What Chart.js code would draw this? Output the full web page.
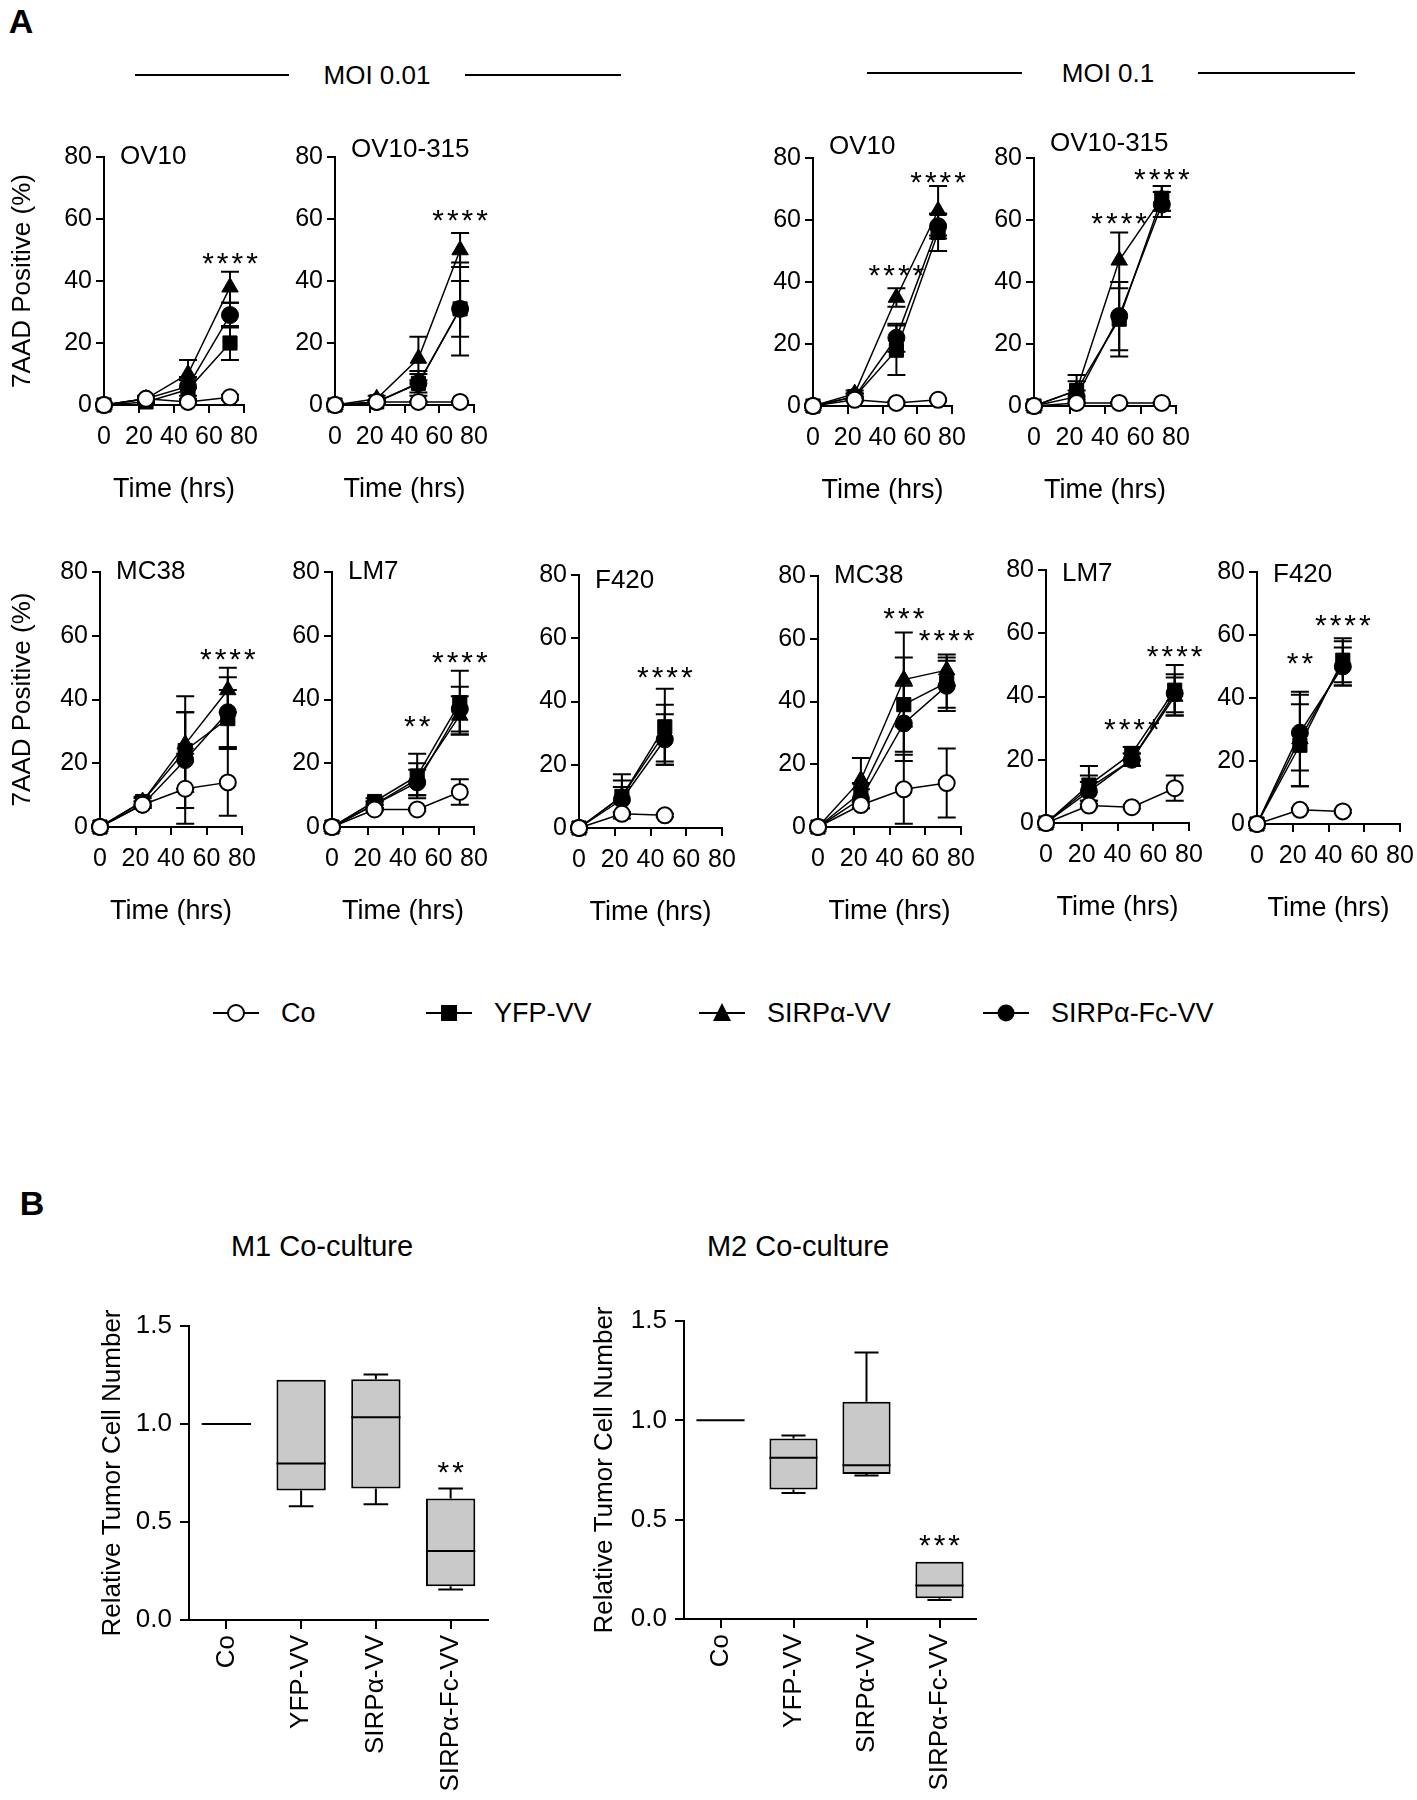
<!DOCTYPE html>
<html>
<head>
<meta charset="utf-8">
<script src="https://cdn.jsdelivr.net/npm/chart.js@4.4.1/dist/chart.umd.min.js"></script>
<style>
  body { margin:0; width:1417px; height:1800px; background:#fff; overflow:hidden; position:relative;
         font-family:"Liberation Sans", Arial, sans-serif; color:#000; }
  .box { position:absolute; }
  .lbl { position:absolute; white-space:nowrap; line-height:1; }
  .rule { position:absolute; height:2px; background:#000; }
</style>
</head>
<body>
<script>
const F = '"Liberation Sans", Arial, sans-serif';

// series order everywhere: Co, YFP-VV, SIRPa-VV, SIRPa-Fc-VV
const seriesNames = ['Co', 'YFP-VV', 'SIRPα-VV', 'SIRPα-Fc-VV'];
const hours4 = [0, 24, 48, 72];
const hours3 = [0, 24, 48];

// ---- MOI 0.01 (mean and SD of 7AAD positive %)
const ov10Low = [[0, 2, 1, 2.5], [0, 1, 5, 20], [0, 2, 10, 38], [0, 2, 6, 29]];
const ov10LowSd = [[0, 0.5, 0.5, 0.8], [0, 0.5, 3, 5.5], [0, 1, 4.5, 5], [0, 0.8, 3, 4]];
const ov10LowStars = [[72, 48, '****']];

const ov315Low = [[0, 1, 1, 1], [0, 1, 7, 31], [0, 2, 15, 50], [0, 1, 7, 31]];
const ov315LowSd = [[0, 0.3, 0.3, 0.3], [0, 0.5, 3, 15], [0, 1, 7, 5.5], [0, 0.5, 4, 9]];
const ov315LowStars = [[72, 62, '****']];

const mc38Low = [[0, 7, 12, 14], [0, 8, 24, 34], [0, 8, 26, 43], [0, 7, 21, 36]];
const mc38LowSd = [[0, 1, 11, 10.5], [0, 1, 12, 9], [0, 1.5, 15, 7], [0, 1, 15, 11]];
const mc38LowStars = [[72, 55, '****']];

const lm7Low = [[0, 5.5, 5.5, 11], [0, 8, 16, 39], [0, 7, 15, 35], [0, 7, 14, 37]];
const lm7LowSd = [[0, 0.5, 0.5, 4], [0, 1, 7, 10], [0, 1, 5, 6], [0, 1, 4, 7]];
const lm7LowStars = [[48, 34, '**'], [72, 54, '****']];

const f420Low = [[0, 4.5, 4], [0, 10, 32], [0, 10, 30], [0, 9, 28]];
const f420LowSd = [[0, 0.5, 0.5], [0, 7, 12], [0, 5, 9], [0, 4, 8]];
const f420LowStars = [[48, 50, '****']];

// ---- MOI 0.1
const ov10High = [[0, 2, 1, 2], [0, 3, 18, 56], [0, 4, 35, 63], [0, 3, 22, 58]];
const ov10HighSd = [[0, 0.5, 0.5, 0.5], [0, 1, 8, 6], [0, 1, 3, 8], [0, 1, 4.5, 4]];
const ov10HighStars = [[48, 44.5, '****'], [72, 74.5, '****']];

const ov315High = [[0, 1, 1, 1], [0, 5, 28, 67], [0, 5, 47, 67], [0, 3, 29, 65]];
const ov315HighSd = [[0, 0.3, 0.3, 0.3], [0, 3, 12, 4], [0, 5, 9, 4], [0, 2, 11, 4]];
const ov315HighStars = [[48, 61.5, '****'], [72, 75.5, '****']];

const mc38High = [[0, 7, 12, 14], [0, 11, 39, 46], [0, 15, 47, 50], [0, 9, 33, 45]];
const mc38HighSd = [[0, 1, 11, 11], [0, 3, 15, 8], [0, 7, 15, 5], [0, 3, 12, 8]];
const mc38HighStars = [[48, 69, '***'], [72, 62, '****']];

const lm7High = [[0, 5.5, 5, 11], [0, 12, 22, 42], [0, 11, 20, 40], [0, 10, 20, 41]];
const lm7HighSd = [[0, 0.5, 0.5, 4], [0, 6, 2, 8], [0, 4, 2, 6], [0, 3, 2, 6]];
const lm7HighStars = [[48, 32, '****'], [72, 55, '****']];

const f420High = [[0, 4.5, 4], [0, 25, 52], [0, 27, 51], [0, 29, 50]];
const f420HighSd = [[0, 0.5, 0.5], [0, 13, 7], [0, 15, 7], [0, 12, 6]];
const f420HighStars = [[24, 53.5, '**'], [48, 65.5, '****']];

// ---- panel B box plots (relative tumor cell number)
const boxCats = ['Co', 'YFP-VV', 'SIRPα-VV', 'SIRPα-Fc-VV'];
const m1Min = [1.0, 0.58, 0.59, 0.156];
const m1Q1 = [1.0, 0.661, 0.671, 0.172];
const m1Med = [1.0, 0.798, 1.034, 0.352];
const m1Q3 = [1.0, 1.226, 1.228, 0.62];
const m1Max = [1.0, 1.226, 1.253, 0.671];
const m1Stars = [[3, 0.79, '**']];

const m2Min = [1.0, 0.634, 0.722, 0.096];
const m2Q1 = [1.0, 0.652, 0.73, 0.104];
const m2Med = [1.0, 0.812, 0.774, 0.168];
const m2Q3 = [1.0, 0.908, 1.094, 0.288];
const m2Max = [1.0, 0.924, 1.342, 0.288];
const m2Stars = [[3, 0.41, '***']];

Chart.defaults.font.family = F;
Chart.defaults.color = '#000';
Chart.defaults.animation = false;

/* little html helpers for headers and legend */
function label(str, x, y, size, opts) {
    opts = opts || {};
    var d = document.createElement('div');
    d.className = 'lbl';
    d.textContent = str;
    d.style.left = x + 'px';
    d.style.top = y + 'px';
    d.style.fontSize = size + 'px';
    if (opts.bold) d.style.fontWeight = 'bold';
    d.style.transform = opts.left ? 'translate(0,-50%)' : 'translate(-50%,-50%)';
    document.body.appendChild(d);
}
function rule(x1, x2, y) {
    var d = document.createElement('div');
    d.className = 'rule';
    d.style.left = x1 + 'px';
    d.style.width = (x2 - x1) + 'px';
    d.style.top = (y - 1) + 'px';
    document.body.appendChild(d);
}
function makeCanvas(left, top, w, h) {
    var div = document.createElement('div');
    div.className = 'box';
    div.style.left = left + 'px';
    div.style.top = top + 'px';
    var cv = document.createElement('canvas');
    cv.width = w; cv.height = h;
    cv.style.width = w + 'px'; cv.style.height = h + 'px';
    div.appendChild(cv);
    document.body.appendChild(div);
    return cv;
}
// asterisks are drawn spaced out like the original
function drawStars(ctx, txt, x, y) {
    ctx.font = '30px ' + F;
    ctx.letterSpacing = '3px';
    ctx.textAlign = 'center';
    ctx.textBaseline = 'middle';
    ctx.fillText(txt, x + 1.5, y + 9);
    ctx.letterSpacing = '0px';
}

label('A', 21, 21, 34, {bold: true});
rule(135, 289, 75); label('MOI 0.01', 377, 75, 26); rule(465, 621, 75);
rule(867, 1022, 73); label('MOI 0.1', 1108, 73, 26); rule(1198, 1355, 73);

var marks = ['circle', 'rect', 'triangle', 'circle'];
var radii = [8, 10, 9.5, 8.5];

var panels = [
    {name: 'OV10', t: hours4, mean: ov10Low, sd: ov10LowSd, stars: ov10LowStars, area: [104, 157, 244, 405], yTitle: true, dy: 0},
    {name: 'OV10-315', t: hours4, mean: ov315Low, sd: ov315LowSd, stars: ov315LowStars, area: [335, 157, 474, 405], dy: -7},
    {name: 'OV10', t: hours4, mean: ov10High, sd: ov10HighSd, stars: ov10HighStars, area: [813, 158, 952, 406], dy: -11},
    {name: 'OV10-315', t: hours4, mean: ov315High, sd: ov315HighSd, stars: ov315HighStars, area: [1034, 158, 1176, 406], dy: -14},
    {name: 'MC38', t: hours4, mean: mc38Low, sd: mc38LowSd, stars: mc38LowStars, area: [100, 572, 242, 827], yTitle: true, dy: 0},
    {name: 'LM7', t: hours4, mean: lm7Low, sd: lm7LowSd, stars: lm7LowStars, area: [332, 572, 474, 827], dy: 0},
    {name: 'F420', t: hours3, mean: f420Low, sd: f420LowSd, stars: f420LowStars, area: [579, 575, 722, 828], dy: 6},
    {name: 'MC38', t: hours4, mean: mc38High, sd: mc38HighSd, stars: mc38HighStars, area: [818, 576, 961, 827], dy: 0},
    {name: 'LM7', t: hours4, mean: lm7High, sd: lm7HighSd, stars: lm7HighStars, area: [1046, 570, 1189, 823], dy: 4},
    {name: 'F420', t: hours3, mean: f420High, sd: f420HighSd, stars: f420HighStars, area: [1257, 572, 1400, 824], dy: 3}
];

function linePanel(p) {
    var L = p.area[0], T = p.area[1], R = p.area[2], B = p.area[3];
    var YW = p.yTitle ? 100 : 62, PT = 48, PR = 24, XH = 110;
    var left = L - YW, top = T - PT;
    var cv = makeCanvas(left, top, R + PR - left, B + XH - top);

    var errBars = {
        id: 'errBars',
        beforeDatasetsDraw: function (chart) {
            var ctx = chart.ctx, xs = chart.scales.x, ys = chart.scales.y;
            ctx.save();
            ctx.strokeStyle = '#000';
            ctx.lineWidth = 2;
            p.mean.forEach(function (ser, i) {
                ser.forEach(function (m, j) {
                    var e = p.sd[i][j];
                    if (!e) return;
                    var x = xs.getPixelForValue(p.t[j]);
                    var yHi = ys.getPixelForValue(m + e), yLo = ys.getPixelForValue(Math.max(0, m - e));
                    ctx.beginPath();
                    ctx.moveTo(x, yLo); ctx.lineTo(x, yHi);
                    ctx.moveTo(x - 9, yHi); ctx.lineTo(x + 9, yHi);
                    ctx.moveTo(x - 9, yLo); ctx.lineTo(x + 9, yLo);
                    ctx.stroke();
                });
            });
            ctx.restore();
        }
    };
    var notes = {
        id: 'notes',
        afterDatasetsDraw: function (chart) {
            var ctx = chart.ctx, xs = chart.scales.x, ys = chart.scales.y;
            ctx.save();
            ctx.fillStyle = '#000';
            ctx.font = '26px ' + F;
            ctx.textAlign = 'left';
            ctx.textBaseline = 'middle';
            ctx.fillText(p.name, chart.chartArea.left + 16, ys.getPixelForValue(80) + p.dy);
            p.stars.forEach(function (s) {
                drawStars(ctx, s[2], xs.getPixelForValue(s[0]), ys.getPixelForValue(s[1]));
            });
            ctx.restore();
        }
    };

    new Chart(cv, {
        type: 'scatter',
        data: {
            datasets: seriesNames.map(function (n, i) {
                return {
                    label: n,
                    data: p.t.map(function (t, j) { return {x: t, y: p.mean[i][j]}; }),
                    showLine: true,
                    borderColor: '#000',
                    borderWidth: 1.5,
                    pointStyle: marks[i],
                    pointRadius: radii[i],
                    pointBackgroundColor: i === 0 ? '#fff' : '#000',
                    pointBorderColor: '#000',
                    pointBorderWidth: i === 0 ? 2 : 1,
                    clip: false,
                    order: i === 0 ? 0 : 4 - i
                };
            })
        },
        options: {
            responsive: false,
            events: [],
            layout: {padding: {top: PT, right: PR, left: 0, bottom: 0}},
            plugins: {legend: {display: false}, tooltip: {enabled: false}},
            scales: {
                x: {
                    type: 'linear', min: 0, max: 80,
                    ticks: {stepSize: 20, autoSkip: false, maxRotation: 0, padding: 9, font: {size: 25}},
                    grid: {drawOnChartArea: false, tickLength: 8, color: '#000', lineWidth: 2},
                    border: {color: '#000', width: 2},
                    title: {display: true, text: 'Time (hrs)', font: {size: 27}, padding: {top: 0, bottom: XH - 85 - 16.2}},
                    afterFit: function (s) { s.height = XH; }
                },
                y: {
                    min: 0, max: 80,
                    ticks: {stepSize: 20, padding: 4, font: {size: 25}},
                    grid: {drawOnChartArea: false, tickLength: 8, color: '#000', lineWidth: 2},
                    border: {color: '#000', width: 2},
                    title: {display: !!p.yTitle, text: '7AAD Positive (%)', font: {size: 26},
                            padding: {top: 23 - left - 15.6, bottom: 0}},
                    afterFit: function (s) { s.width = YW; }
                }
            }
        },
        plugins: [errBars, notes]
    });
}
panels.forEach(linePanel);

/* legend */
function legendItem(kind, cx, cy, text) {
    var c = makeCanvas(cx - 26, cy - 13, 52, 26);
    var ctx = c.getContext('2d');
    ctx.strokeStyle = '#000';
    ctx.fillStyle = '#000';
    ctx.lineWidth = 2;
    ctx.beginPath(); ctx.moveTo(3, 13); ctx.lineTo(49, 13); ctx.stroke();
    ctx.beginPath();
    if (kind === 'open') { ctx.arc(26, 13, 8, 0, Math.PI * 2); ctx.fillStyle = '#fff'; ctx.fill(); ctx.stroke(); }
    else if (kind === 'rect') { ctx.fillRect(18, 5, 16, 16); }
    else if (kind === 'tri') { ctx.moveTo(26, 3); ctx.lineTo(35, 21); ctx.lineTo(17, 21); ctx.closePath(); ctx.fill(); }
    else { ctx.arc(26, 13, 8.5, 0, Math.PI * 2); ctx.fill(); }
    label(text, cx + 45, cy, 27, {left: true});
}
legendItem('open', 236, 1013, seriesNames[0]);
legendItem('rect', 449, 1013, seriesNames[1]);
legendItem('tri', 722, 1013, seriesNames[2]);
legendItem('dot', 1006, 1013, seriesNames[3]);

/* panel B */
label('B', 32, 1203, 34, {bold: true});
label('M1 Co-culture', 322, 1246, 29);
label('M2 Co-culture', 798, 1246, 29);

function boxPanel(b) {
    var L = b.area[0], T = b.area[1], R = b.area[2], B = b.area[3];
    var YW = 100, PT = 46, PR = 20, XH = 180;
    var left = L - YW, top = T - PT;
    var cv = makeCanvas(left, top, R + PR - left, B + XH - top);

    var whiskers = {
        id: 'whiskers',
        afterDatasetsDraw: function (chart) {
            var ctx = chart.ctx, xs = chart.scales.x, ys = chart.scales.y;
            var bars = chart.getDatasetMeta(0).data;
            ctx.save();
            ctx.strokeStyle = '#000';
            ctx.lineWidth = 2;
            b.med.forEach(function (m, i) {
                var x = xs.getPixelForValue(i), hw = bars[i].width / 2, cw = hw / 2;
                var yMed = ys.getPixelForValue(m);
                var yQ1 = ys.getPixelForValue(b.q1[i]), yQ3 = ys.getPixelForValue(b.q3[i]);
                var yMin = ys.getPixelForValue(b.min[i]), yMax = ys.getPixelForValue(b.max[i]);
                ctx.beginPath();
                ctx.moveTo(x - hw, yMed); ctx.lineTo(x + hw, yMed);
                if (yMax < yQ3 - 0.5) {
                    ctx.moveTo(x, yQ3); ctx.lineTo(x, yMax);
                    ctx.moveTo(x - cw, yMax); ctx.lineTo(x + cw, yMax);
                }
                if (yMin > yQ1 + 0.5) {
                    ctx.moveTo(x, yQ1); ctx.lineTo(x, yMin);
                    ctx.moveTo(x - cw, yMin); ctx.lineTo(x + cw, yMin);
                }
                ctx.stroke();
            });
            ctx.fillStyle = '#000';
            b.stars.forEach(function (s) {
                drawStars(ctx, s[2], xs.getPixelForValue(s[0]), ys.getPixelForValue(s[1]));
            });
            ctx.restore();
        }
    };

    new Chart(cv, {
        type: 'bar',
        data: {
            labels: boxCats,
            datasets: [{
                data: b.q1.map(function (v, i) { return [v, b.q3[i]]; }),
                backgroundColor: '#c9c9c9',
                borderColor: '#000',
                borderWidth: 2,
                borderSkipped: false,
                barPercentage: 0.66,
                categoryPercentage: 1
            }]
        },
        options: {
            responsive: false,
            events: [],
            layout: {padding: {top: PT, right: PR, left: 0, bottom: 0}},
            plugins: {legend: {display: false}, tooltip: {enabled: false}},
            scales: {
                x: {
                    offset: true,
                    ticks: {autoSkip: false, minRotation: 90, maxRotation: 90, padding: 6, font: {size: 26}},
                    grid: {offset: false, drawOnChartArea: false, tickLength: 9, color: '#000', lineWidth: 2},
                    border: {color: '#000', width: 2},
                    afterFit: function (s) { s.height = XH; }
                },
                y: {
                    min: 0, max: 1.5,
                    ticks: {stepSize: 0.5, padding: 8, font: {size: 26},
                            callback: function (v) { return v.toFixed(1); }},
                    grid: {drawOnChartArea: false, tickLength: 9, color: '#000', lineWidth: 2},
                    border: {color: '#000', width: 2},
                    title: {display: true, text: 'Relative Tumor Cell Number', font: {size: 26},
                            padding: {top: b.titleX - left - 15.6, bottom: 0}},
                    afterFit: function (s) { s.width = YW; }
                }
            }
        },
        plugins: [whiskers]
    });
}

boxPanel({min: m1Min, q1: m1Q1, med: m1Med, q3: m1Q3, max: m1Max, stars: m1Stars, area: [189, 1326, 488, 1620], titleX: 113});
boxPanel({min: m2Min, q1: m2Q1, med: m2Med, q3: m2Q3, max: m2Max, stars: m2Stars, area: [684, 1321, 976, 1619], titleX: 605});
</script>
</body>
</html>
